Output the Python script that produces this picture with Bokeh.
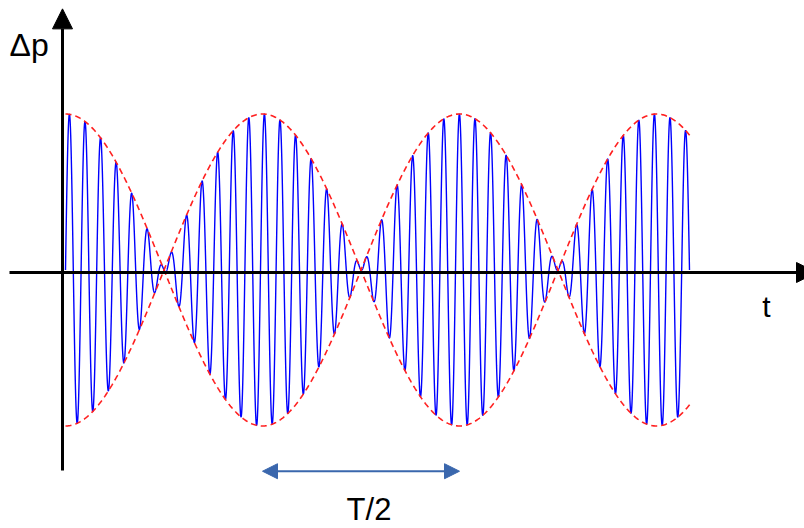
import numpy as np
from bokeh.plotting import figure
from bokeh.models import Range1d, Arrow, NormalHead, Label
from bokeh.embed import file_html
from bokeh.resources import INLINE

# --- chart parameters ---
carrier_period = [15.6]          # period of the fast oscillation (t units)
half_beat = [197.0]              # T/2: distance between envelope maxima
amplitude = [1.0]
t_end_signal = [624.0]
t_end_envelope = [625.0]
axis_y = [-0.016]
t_axis_start = [-56.0]
t_axis_end = [751.0]
p_axis_bottom = [-1.285]
p_axis_top = [1.674]
span_start = [197.0]
span_end = [394.0]
labels = ["Δp", "t", "T/2"]

f_mean = 1.0 / carrier_period[0]
f_half_diff = 1.0 / (2.0 * half_beat[0])
f1 = f_mean + f_half_diff
f2 = f_mean - f_half_diff

t = np.linspace(0, t_end_signal[0], 6000)
signal = amplitude[0] * (np.sin(2 * np.pi * f1 * t) + np.sin(2 * np.pi * f2 * t)) / 2.0
te = np.linspace(0, t_end_envelope[0], 800)
env = amplitude[0] * np.cos(np.pi * te / half_beat[0])

p = figure(width=804, height=528, output_backend="svg", toolbar_location=None,
           x_range=Range1d(-65, 739), y_range=Range1d(-1.6571, 1.7276),
           min_border=0, min_border_left=0, min_border_right=0,
           min_border_top=0, min_border_bottom=0)
p.axis.visible = False
p.grid.visible = False
p.outline_line_color = None
p.background_fill_color = "white"
p.border_fill_color = "white"

# signal
p.line(t, signal, line_color="#0000ff", line_width=1.4)
# envelopes
p.line(te, env, line_color="#ff2020", line_width=1.6, line_dash="6 4")
p.line(te, -env, line_color="#ff2020", line_width=1.6, line_dash="6 4")

# axes with arrow heads
p.add_layout(Arrow(end=NormalHead(size=20, fill_color="black", line_color="black", line_width=1),
                   x_start=t_axis_start[0], y_start=axis_y[0], x_end=t_axis_end[0], y_end=axis_y[0],
                   line_color="black", line_width=3))
p.add_layout(Arrow(end=NormalHead(size=20, fill_color="black", line_color="black", line_width=1),
                   x_start=-3, y_start=p_axis_bottom[0], x_end=-3, y_end=p_axis_top[0],
                   line_color="black", line_width=3))

# T/2 span arrow
span_col = "#3a67ad"
p.add_layout(Arrow(start=NormalHead(size=15, fill_color=span_col, line_color=span_col, line_width=1),
                   end=NormalHead(size=15, fill_color=span_col, line_color=span_col, line_width=1),
                   x_start=span_start[0], y_start=-1.290, x_end=span_end[0], y_end=-1.290,
                   line_color=span_col, line_width=2))

font = "Liberation Sans"
p.add_layout(Label(x=-56, y=1.4455, text=labels[0], text_font=font, text_font_size="32px",
                   text_align="left", text_baseline="alphabetic", text_color="black"))
p.add_layout(Label(x=701, y=-0.232, text=labels[1], text_font=font, text_font_size="30px",
                   text_align="center", text_baseline="alphabetic", text_color="black"))
p.add_layout(Label(x=303.5, y=-1.5355, text=labels[2], text_font=font, text_font_size="31px",
                   text_align="center", text_baseline="alphabetic", text_color="black"))

open("out.html", "w").write(file_html(p, INLINE))
